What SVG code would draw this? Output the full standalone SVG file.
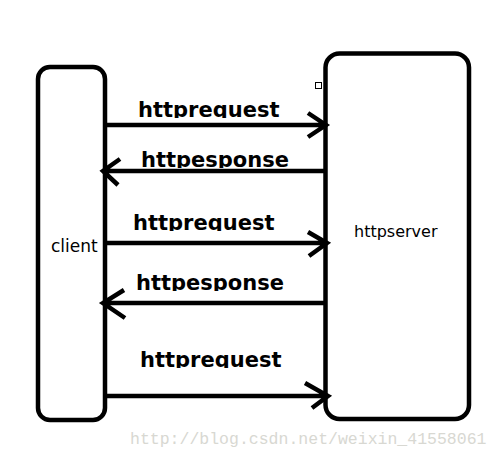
<svg xmlns="http://www.w3.org/2000/svg" width="501" height="458" viewBox="0 0 501 458">
<style>
.box{fill:#fff;stroke:#000;stroke-width:4.5}
.ln{fill:none;stroke:#000;stroke-width:4.5;stroke-linejoin:miter}
.lbl{font-family:"DejaVu Sans",sans-serif;font-weight:bold;font-size:21px;fill:#000}
.nm{font-family:"DejaVu Sans",sans-serif;fill:#000}
.wm{font-family:"Liberation Mono",monospace;font-size:16.5px;fill:#d8d8d2}
</style>
<defs>
<clipPath id="c1"><rect x="120" y="90" width="200" height="28"/></clipPath>
<clipPath id="c2"><rect x="120" y="140" width="200" height="28"/></clipPath>
<clipPath id="c3"><rect x="120" y="203" width="200" height="28"/></clipPath>
<clipPath id="c4"><rect x="120" y="263" width="200" height="28"/></clipPath>
<clipPath id="c5"><rect x="120" y="340" width="200" height="28"/></clipPath>
</defs>
<rect width="501" height="458" fill="#fff"/>
<g id="client">
<rect class="box" x="38" y="67" width="67" height="353" rx="12"/>
<text class="nm" x="51" y="252" font-size="17">client</text>
</g>
<g id="httpserver">
<rect class="box" x="325.5" y="53.5" width="143.5" height="365.5" rx="14"/>
<text class="nm" x="354" y="237" font-size="16">httpserver</text>
<rect x="315.5" y="82.5" width="6" height="6" fill="#fff" stroke="#000" stroke-width="1"/>
</g>
<g id="connectors">
<path class="ln" d="M105 125H326M308 113L326 125L308 137"/>
<path class="ln" d="M325 171H103M120 159L103 171L118 185"/>
<path class="ln" d="M105 243H327M308 232L327 243L309 256"/>
<path class="ln" d="M325 303H103M124 290L103 303L125 318"/>
<path class="ln" d="M105 396H328M305 383L328 396L312 408"/>
</g>
<g id="labels">
<text class="lbl" x="138" y="117" clip-path="url(#c1)">httprequest</text>
<text class="lbl" x="141" y="167" clip-path="url(#c2)">httpesponse</text>
<text class="lbl" x="133" y="230" clip-path="url(#c3)">httprequest</text>
<text class="lbl" x="136" y="290" clip-path="url(#c4)">httpesponse</text>
<text class="lbl" x="140" y="367" clip-path="url(#c5)">httprequest</text>
</g>
<text class="wm" x="130" y="444">http://blog.csdn.net/weixin_41558061</text>
</svg>
